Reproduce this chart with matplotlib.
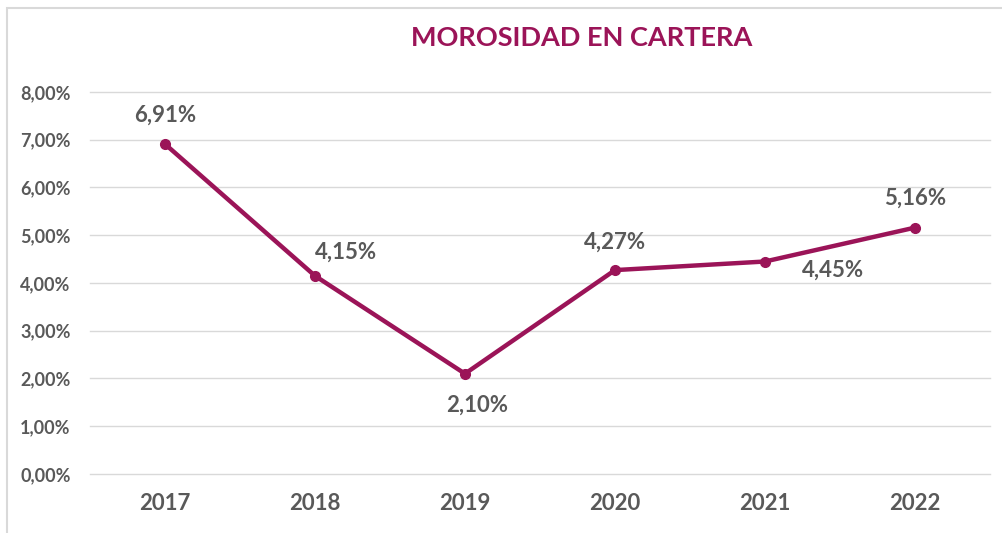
import matplotlib
matplotlib.use("Agg")
import matplotlib.pyplot as plt
from matplotlib.patches import Rectangle

years = ["2017", "2018", "2019", "2020", "2021", "2022"]
values = [6.91, 4.15, 2.10, 4.27, 4.45, 5.16]
labels = ["6,91%", "4,15%", "2,10%", "4,27%", "4,45%", "5,16%"]
label_offsets = [(0, 21), (22, 17), (9, -23), (0, 20), (49, -6), (0, 21)]
yticks = [0, 1, 2, 3, 4, 5, 6, 7, 8]
ytick_labels = ["0,00%", "1,00%", "2,00%", "3,00%", "4,00%", "5,00%", "6,00%", "7,00%", "8,00%"]

plt.rcParams['font.family'] = ['Lato', 'DejaVu Sans']
line_color = "#9B1458"
text_color = "#595959"

fig = plt.figure(figsize=(10.03, 5.33), dpi=100)
ax = fig.add_axes([0.0897, 0.1107, 0.8973, 0.7167])

x = list(range(len(years)))
ax.plot(x, values, color=line_color, lw=3.2, marker="o", ms=7, solid_capstyle="round")
for xi, v, lab, off in zip(x, values, labels, label_offsets):
    ax.annotate(lab, (xi, v), xytext=off, textcoords="offset points",
                ha="center", va="center", fontsize=16, fontweight="bold", color=text_color)

ax.set_xlim(-0.5, len(years) - 0.5)
ax.set_ylim(0, 8)
ax.set_yticks(yticks)
ax.set_yticklabels(ytick_labels)
ax.set_xticks(x)
ax.set_xticklabels(years)
ax.grid(axis="y", color="#D9D9D9", lw=1)
for gl in ax.get_ygridlines():
    gl.set_clip_on(False)
ax.set_axisbelow(True)
for s in ax.spines.values():
    s.set_visible(False)
ax.tick_params(axis="both", length=0, colors=text_color)
ax.tick_params(axis="y", labelsize=13, pad=14)
ax.tick_params(axis="x", labelsize=16, pad=14)
for t in ax.get_yticklabels() + ax.get_xticklabels():
    t.set_fontweight("bold")

fig.text(0.580, 0.928, "MOROSIDAD EN CARTERA", ha="center", va="center",
         fontsize=19.5, fontweight="bold", color=line_color)

fig.patches.append(Rectangle((7 / 1003, -0.01), 1.02, 1 - 8 / 533 + 0.01, transform=fig.transFigure,
                             fill=False, edgecolor="#D9D9D9", lw=1.5))

fig.savefig("out.png", dpi=100, facecolor="white")
